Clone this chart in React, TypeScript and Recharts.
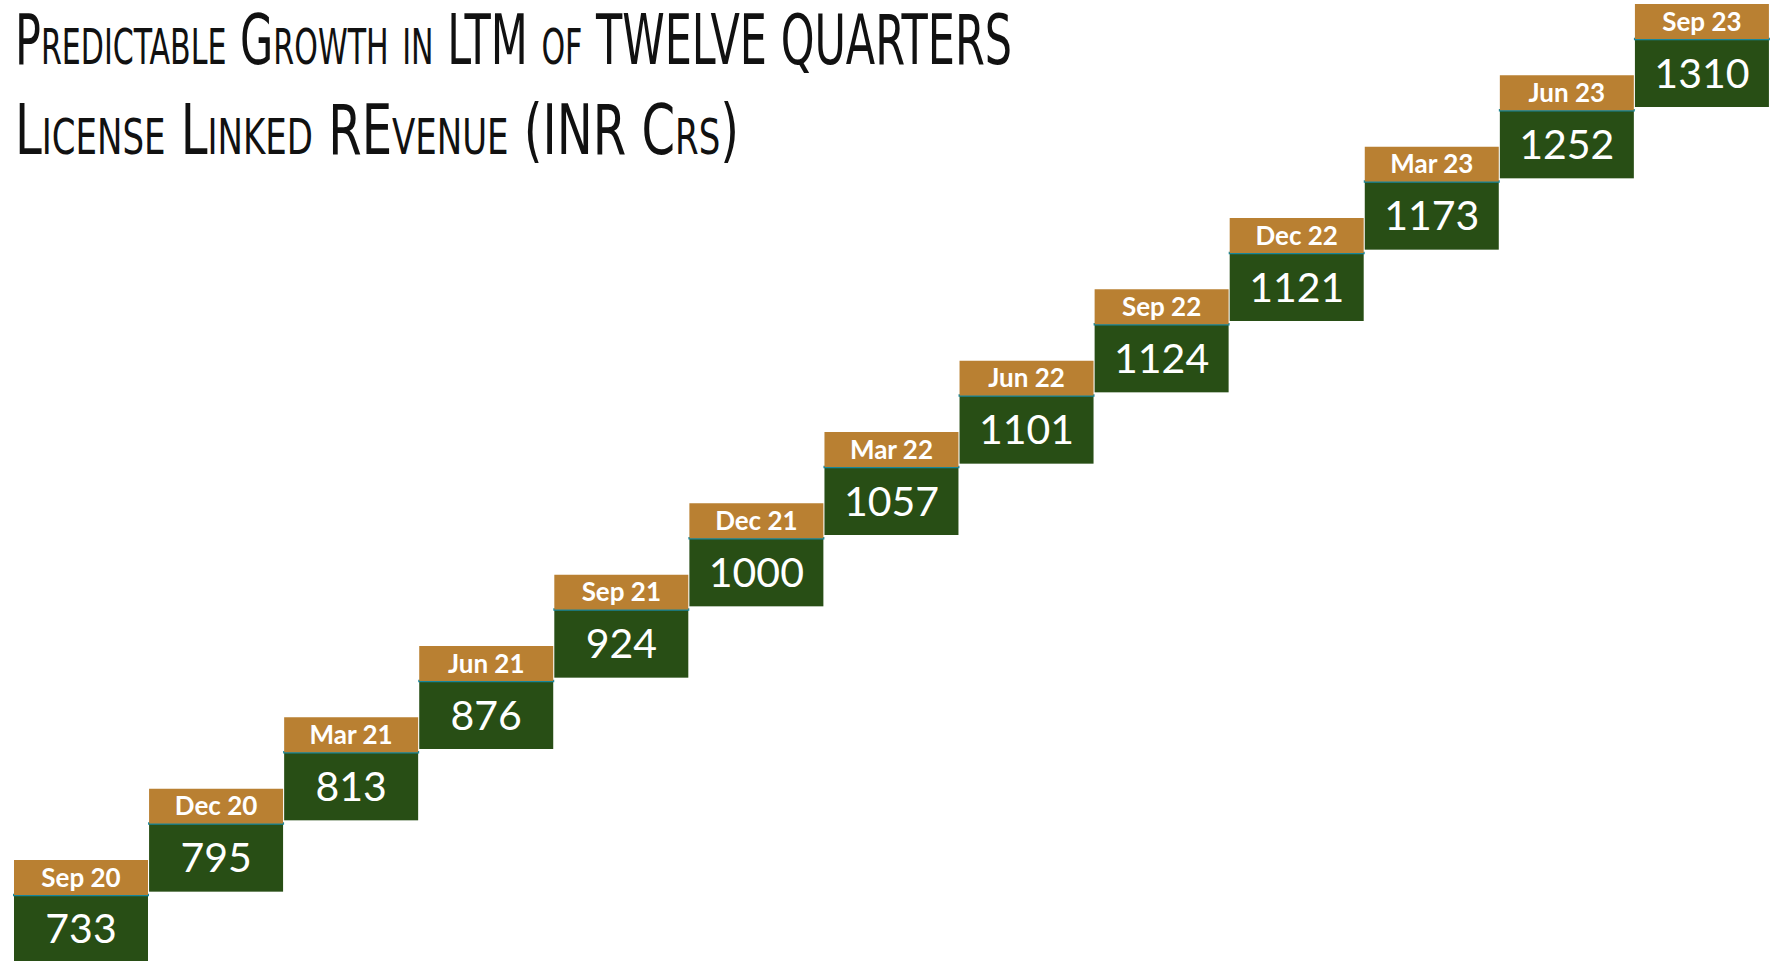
import React from 'react';
import { Bar, BarChart, LabelList, XAxis, YAxis } from "recharts";

const quarters = ["Sep 20", "Dec 20", "Mar 21", "Jun 21", "Sep 21", "Dec 21", "Mar 22", "Jun 22", "Sep 22", "Dec 22", "Mar 23", "Jun 23", "Sep 23"];
const revenue = [733, 795, 813, 876, 924, 1000, 1057, 1101, 1124, 1121, 1173, 1252, 1310];

const titleLines = ["Predictable Growth in LTM of TWELVE QUARTERS", "License Linked REvenue (INR Crs)"];

// each quarter sits one step above the previous one
const BOX = 0.954;
const HEADER = 0.49;

const data = quarters.map((q, i) => ({
  quarter: q,
  revenue: revenue[i],
  step: i,
  box: BOX,
  header: HEADER,
}));

const GOLD = "#b98032";
const GREEN = "#284e15";
const TEAL = "#17869a";
const TITLE_FONT = "'Liberation Sans Narrow', 'DejaVu Sans Condensed', sans-serif";

const GreenBox = (props: any) => {
  const { x, y, width, height } = props;
  return (
    <g>
      <rect x={x} y={y} width={width} height={height} fill={GREEN} />
      <line x1={x - 1} x2={x + width + 1} y1={y} y2={y} stroke={TEAL} strokeWidth={2.5} />
    </g>
  );
};

// the title font is very condensed: squeeze a narrow font horizontally
const TitleLine = ({ text, y, width, sx }: { text: string; y: number; width: number; sx: number }) => (
  <g transform={`translate(15, ${y}) scale(${sx}, 1)`}>
    <text x={0} y={0} fontSize={70} fontFamily={TITLE_FONT} style={{ fontVariant: 'small-caps' }} textLength={width / sx} lengthAdjust="spacingAndGlyphs" fill="#111">
      {text}
    </text>
  </g>
);

const App = () => {
  return (
    <div style={{ position: 'absolute', left: 0, top: 0, width: 1777, height: 961, overflow: 'hidden', background: '#fff' }}>
      <BarChart
        width={1777}
        height={961}
        data={data}
        margin={{ top: 0, right: 8, bottom: 0, left: 13 }}
      >
        <XAxis dataKey="quarter" hide />
        <YAxis type="number" hide domain={[0.028, 13.5]} allowDataOverflow />
        <Bar dataKey="step" stackId="s" fill="transparent" barSize={134} isAnimationActive={false} />
        <Bar dataKey="box" stackId="s" barSize={134} shape={GreenBox} isAnimationActive={false}>
          <LabelList dataKey="revenue" position="center" fill="#ffffff" fontSize={41} fontFamily="Lato" />
        </Bar>
        <Bar dataKey="header" stackId="s" fill={GOLD} barSize={134} isAnimationActive={false}>
          <LabelList dataKey="quarter" position="center" fill="#ffffff" fontSize={26} fontWeight="bold" fontFamily="Lato" />
        </Bar>
      </BarChart>
      <svg width={1777} height={175} style={{ position: 'absolute', left: 0, top: 0, pointerEvents: 'none' }}>
        <TitleLine text={titleLines[0]} y={64} width={997} sx={0.735} />
        <TitleLine text={titleLines[1]} y={154} width={724} sx={0.81} />
      </svg>
    </div>
  );
};

export default App;
